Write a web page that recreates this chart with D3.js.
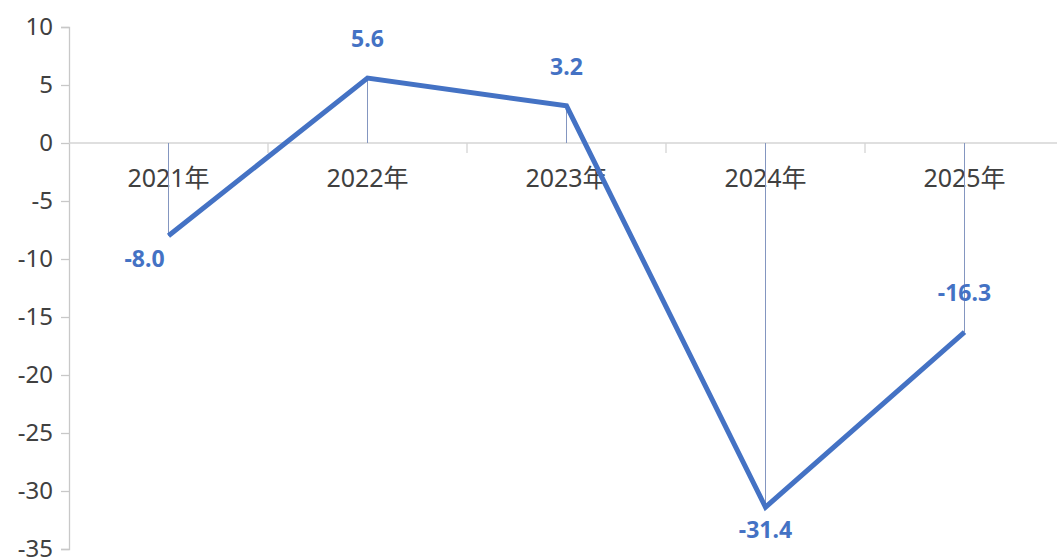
<!DOCTYPE html>
<html>
<head>
<meta charset="utf-8">
<script src="https://cdn.jsdelivr.net/npm/d3@7"></script>
<style>
  body { margin: 0; background: #fff; }
  svg { display: block; }
</style>
</head>
<body>
<div id="chart"></div>
<script>
// 数据
const years = ['2021年', '2022年', '2023年', '2024年', '2025年'];
const values = [-8.0, 5.6, 3.2, -31.4, -16.3];
const yTicks = [10, 5, 0, -5, -10, -15, -20, -25, -30, -35];

const width = 1057, height = 560;
const left = 69, step = 199;
const lineColor = '#4472c4';
const fontFamily = '"Noto Sans", "Noto Sans CJK SC", sans-serif';

const svg = d3.select('#chart').append('svg')
    .attr('width', width)
    .attr('height', height);

const x = d3.scaleBand()
    .domain(years)
    .range([left, left + step * years.length])
    .paddingInner(0).paddingOuter(0);

const y = d3.scaleLinear()
    .domain([-35, 10])
    .range([549, 27]);

// 纵轴
const yAxis = svg.append('g')
    .attr('transform', `translate(${left},0)`)
    .call(d3.axisLeft(y).tickValues(yTicks).tickFormat(d => String(d)).tickSize(8).tickPadding(8));
yAxis.select('.domain').attr('stroke', '#c8c8c8').attr('stroke-width', 1.3);
yAxis.selectAll('.tick line').attr('stroke', '#c8c8c8').attr('stroke-width', 1.3);
yAxis.selectAll('.tick text')
    .attr('fill', '#404040')
    .style('font-family', fontFamily)
    .style('font-size', '24px');

// 零线
svg.append('line')
    .attr('x1', left).attr('x2', width)
    .attr('y1', y(0)).attr('y2', y(0))
    .attr('stroke', '#d4d4d4').attr('stroke-width', 1.3);

// 分类刻度
const cx = d => x(d) + x.bandwidth() / 2;
svg.append('g').selectAll('line')
    .data(years.slice(1))
    .enter().append('line')
    .attr('x1', d => x(d)).attr('x2', d => x(d))
    .attr('y1', y(0)).attr('y2', y(0) + 10)
    .attr('stroke', '#d4d4d4').attr('stroke-width', 1.3);

// 分类标签
svg.append('g').selectAll('text')
    .data(years)
    .enter().append('text')
    .attr('x', d => cx(d))
    .attr('y', y(0) + 44)
    .attr('text-anchor', 'middle')
    .attr('fill', '#404040')
    .style('font-family', fontFamily)
    .style('font-size', '25px')
    .text(d => d);

// 垂直线
svg.append('g').selectAll('line')
    .data(years)
    .enter().append('line')
    .attr('x1', d => cx(d)).attr('x2', d => cx(d))
    .attr('y1', y(0))
    .attr('y2', (d, i) => y(values[i]))
    .attr('stroke', '#8496c0').attr('stroke-width', 1);

// 折线
const line = d3.line()
    .x((d, i) => cx(years[i]))
    .y(d => y(d));
svg.append('path')
    .datum(values)
    .attr('d', line)
    .attr('fill', 'none')
    .attr('stroke', lineColor)
    .attr('stroke-width', 5)
    .attr('stroke-linejoin', 'miter');

// 数据标签
svg.append('g').selectAll('text')
    .data(values)
    .enter().append('text')
    .attr('x', (d, i) => cx(years[i]) + (i === 0 ? -24 : 0))
    .attr('y', (d, i) => (i === 0 || i === 3) ? y(d) + 31 : y(d) - 31)
    .attr('text-anchor', 'middle')
    .attr('fill', lineColor)
    .style('font-family', fontFamily)
    .style('font-size', '23px')
    .style('font-weight', 'bold')
    .text(d => d.toFixed(1));
</script>
</body>
</html>
